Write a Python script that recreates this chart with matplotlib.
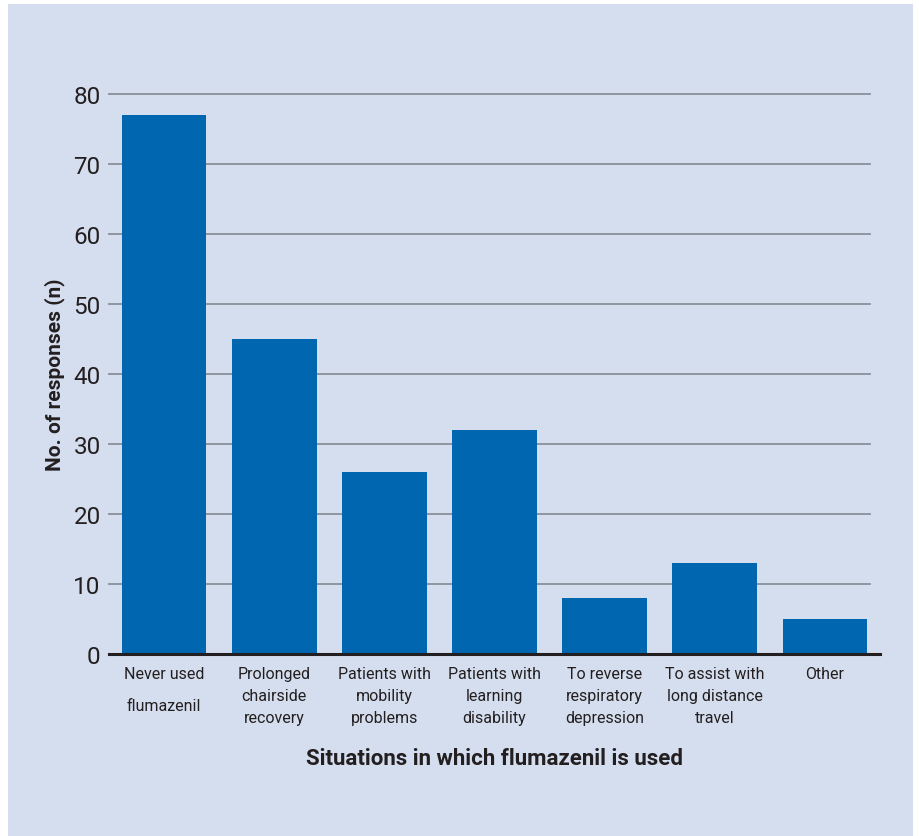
import matplotlib.pyplot as plt
from matplotlib.patches import Rectangle

categories = ['Never used\nflumazenil', 'Prolonged\nchairside\nrecovery',
              'Patients with\nmobility\nproblems', 'Patients with\nlearning\ndisability',
              'To reverse\nrespiratory\ndepression', 'To assist with\nlong distance\ntravel',
              'Other']
responses = [77, 45, 26, 32, 8, 13, 5]
yticks = [0, 10, 20, 30, 40, 50, 60, 70, 80]

plt.rcParams['font.family'] = ['Roboto', 'DejaVu Sans']

bg = '#d5deee'
bar_col = '#0066b0'
txt = '#231f20'

fig = plt.figure(figsize=(9.2, 8.37), dpi=100, facecolor='white')
fig.patches.append(Rectangle((8/920, 0), 905/920, 832/837, transform=fig.transFigure,
                             facecolor=bg, edgecolor='none', zorder=-10))

ax = fig.add_axes([109/920, (837-655)/837, 771/920, 560/837])
ax.set_facecolor('none')
x = range(len(categories))
ax.bar(x, responses, width=0.77, color=bar_col, zorder=3)
ax.set_xlim(-0.5, 6.5)
ax.set_ylim(0, 80)

for y in yticks[1:]:
    ax.axhline(y, xmin=0, xmax=0.987, color='#8a9099', lw=1.3, zorder=1, clip_on=False)

for s in ['top', 'right', 'left']:
    ax.spines[s].set_visible(False)
ax.spines['bottom'].set_linewidth(2.2)
ax.spines['bottom'].set_color(txt)
ax.spines['bottom'].set_zorder(4)

ax.set_yticks(yticks)
ax.set_yticklabels([str(v) for v in yticks], fontsize=17.5, color=txt)
ax.tick_params(axis='y', length=0, pad=6)
ax.set_xticks(list(x))
ax.set_xticklabels(categories, fontsize=11.5, color=txt, linespacing=1.55)
ax.tick_params(axis='x', length=0, pad=9)
ax.get_xticklabels()[0].set_linespacing(2.35)

ax.set_ylabel('No. of responses (n)', fontsize=15, fontweight='bold', color=txt, labelpad=6)
ax.set_xlabel('Situations in which flumazenil is used', fontsize=16, fontweight='bold',
              color=txt, labelpad=16)

fig.savefig('out.png', dpi=100, facecolor='white')
